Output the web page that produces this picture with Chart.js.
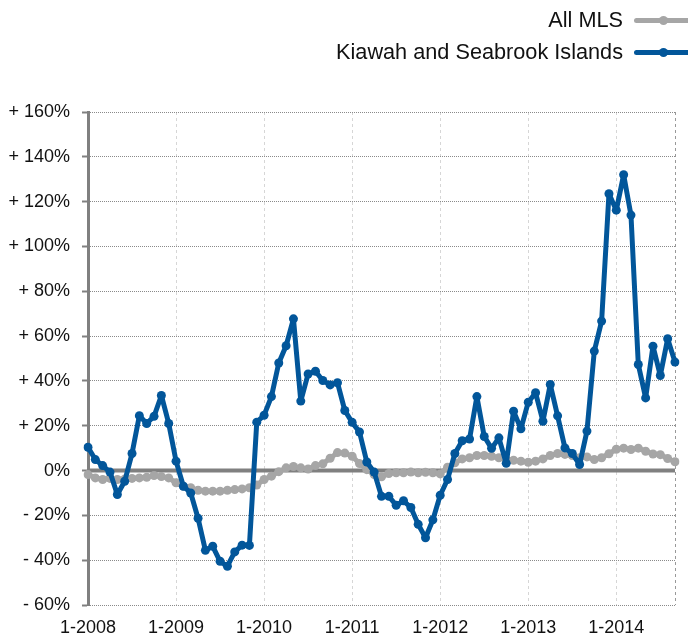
<!DOCTYPE html>
<html>
<head>
<meta charset="utf-8">
<script src="https://cdn.jsdelivr.net/npm/chart.js@4.4.1/dist/chart.umd.min.js"></script>
<style>
  html, body { margin:0; padding:0; background:#fff; }
  #wrap { position:relative; width:688px; height:636px; overflow:hidden; }
  #c { position:absolute; left:0; top:0; }
  .legtxt { position:absolute; right:65px; font-family:"Liberation Sans", Arial, sans-serif; font-size:21.7px; color:#111; line-height:24px; white-space:nowrap; }
  .legline { position:absolute; left:634px; width:60px; height:5px; border-radius:3px; }
  .legdot { position:absolute; left:25px; top:-2px; width:9px; height:9px; border-radius:50%; }
</style>
</head>
<body>
<div id="wrap">
  <canvas id="c" width="688" height="636"></canvas>
  <div class="legtxt" id="lt0" style="top:8px"></div>
  <div class="legline" id="ll0" style="top:18px"><div class="legdot" id="ld0"></div></div>
  <div class="legtxt" id="lt1" style="top:40px"></div>
  <div class="legline" id="ll1" style="top:50px"><div class="legdot" id="ld1"></div></div>
</div>
<script>
// ---- data ----
const startYear = 2008;
const monthCount = 81; // Jan 2008 .. Sep 2014
const tickLabels = ['1-2008','1-2009','1-2010','1-2011','1-2012','1-2013','1-2014'];
const seriesNames = ['Kiawah and Seabrook Islands', 'All MLS'];
const seriesColors = ['#02569a', '#a6a6a6'];

const kiawah = [
  10.4, 4.9, 2.2, -0.7, -10.7, -4.8, 7.6, 24.5, 21, 24.2, 33.5, 21,
  4.2, -7, -10, -21.3, -35.6, -33.8, -40.5, -42.7, -36.3, -33.3, -33.4, 21.6,
  24.7, 33, 48, 55.7, 67.7, 31, 43.1, 44.3, 40.2, 38.2, 39.2, 26.8,
  21.5, 17.2, 3.8, -0.7, -11.5, -11.5, -15.5, -13.5, -16.5, -24, -30, -22,
  -11, -4, 7.6, 13.3, 14.1, 33, 15.2, 9.9, 14.6, 3.2, 26.5, 18.6,
  30.5, 34.7, 22, 38.4, 24.4, 10.1, 7.6, 2.7, 17.6, 53.3, 66.7, 123.5,
  116.2, 132, 114, 47.3, 32.4, 55.5, 42.4, 58.8, 48.4
];
const allMls = [
  -1.8, -3.3, -4, -3.5, -4, -3.8, -3.5, -3.3, -3, -2.2, -2.7, -3.3,
  -5.5, -7, -7.7, -8.8, -9.2, -9.2, -9.2, -8.8, -8.5, -8.2, -7.7, -6.5,
  -4, -2.5, -0.5, 1.2, 1.8, 1.2, 0.7, 2.2, 3, 5.5, 8, 7.8,
  6.4, 3.1, 0.4, -1.8, -2.8, -1.3, -1, -1, -0.7, -1, -0.8, -1,
  -1.5, 1.5, 3.5, 5.2, 5.7, 6.7, 6.7, 6.4, 5.7, 4.9, 4.6, 4.2,
  3.7, 4.2, 5.2, 6.7, 7.6, 7.2, 6.7, 5.7, 6.1, 4.9, 5.7, 7.5,
  9.5, 10, 9.4, 10, 8.6, 7.4, 7.1, 5.4, 3.9
];

const categories = [];
for (let i = 0; i < monthCount; i++) {
  categories.push((i % 12 + 1) + '-' + (startYear + Math.floor(i / 12)));
}

// ---- legend (HTML text) ----
document.getElementById('lt0').textContent = seriesNames[1];
document.getElementById('lt1').textContent = seriesNames[0];
document.getElementById('ll0').style.background = seriesColors[1];
document.getElementById('ld0').style.background = seriesColors[1];
document.getElementById('ll1').style.background = seriesColors[0];
document.getElementById('ld1').style.background = seriesColors[0];

const zeroLine = {
  id: 'zeroLine',
  beforeDatasetsDraw(chart) {
    const { ctx, chartArea, scales } = chart;
    const y0 = scales.y.getPixelForValue(0);
    ctx.save();
    ctx.strokeStyle = '#808080';
    ctx.lineWidth = 4;
    ctx.beginPath();
    ctx.moveTo(chartArea.left, y0);
    ctx.lineTo(chartArea.right, y0);
    ctx.stroke();
    ctx.restore();
  }
};

const FONT = { family: '"Liberation Sans", Arial, sans-serif', size: 18 };

function ds(label, data, color, order) {
  return {
    label, data, order,
    borderColor: color, backgroundColor: color,
    borderWidth: 5, borderJoinStyle: 'round', borderCapStyle: 'round',
    pointRadius: 4.5, pointBorderWidth: 0, pointBackgroundColor: color,
    tension: 0
  };
}

new Chart(document.getElementById('c'), {
  type: 'line',
  data: {
    labels: categories,
    datasets: [
      ds(seriesNames[0], kiawah, seriesColors[0], 1),
      ds(seriesNames[1], allMls, seriesColors[1], 2)
    ]
  },
  options: {
    responsive: false,
    animation: false,
    events: [],
    layout: { padding: { top: 112, right: 13, left: 0, bottom: 0 } },
    plugins: { legend: { display: false }, tooltip: { enabled: false } },
    scales: {
      x: {
        type: 'category',
        offset: false,
        afterFit(s) { s.height = 31; },
        border: { display: false, dash: [3, 3] },
        grid: {
          drawTicks: false,
          lineWidth: 1,
          color(ctx) {
            const i = ctx.index;
            if (i === monthCount - 1) return '#999999';
            if (i > 0 && i % 12 === 0) return '#d6d6d6';
            return 'rgba(0,0,0,0)';
          }
        },
        ticks: {
          autoSkip: false, maxRotation: 0, minRotation: 0,
          padding: 12, color: '#111', font: FONT,
          callback(v, i) { return i % 12 === 0 ? tickLabels[i / 12] : ''; }
        }
      },
      y: {
        min: -60, max: 160,
        afterFit(s) { s.width = 88; },
        border: { display: true, color: '#808080', width: 3, dash: [1, 1] },
        grid: {
          drawTicks: true, tickLength: 6, tickWidth: 2, tickColor: '#808080', tickBorderDash: [],
          lineWidth: 1,
          color(ctx) { return ctx.tick && ctx.tick.value === 0 ? 'rgba(0,0,0,0)' : '#8a8a8a'; }
        },
        ticks: {
          stepSize: 20, padding: 12, color: '#111', font: FONT,
          callback(v) { return v > 0 ? '+ ' + v + '%' : (v < 0 ? '- ' + (-v) + '%' : '0%'); }
        }
      }
    }
  },
  plugins: [zeroLine]
});
</script>
</body>
</html>
